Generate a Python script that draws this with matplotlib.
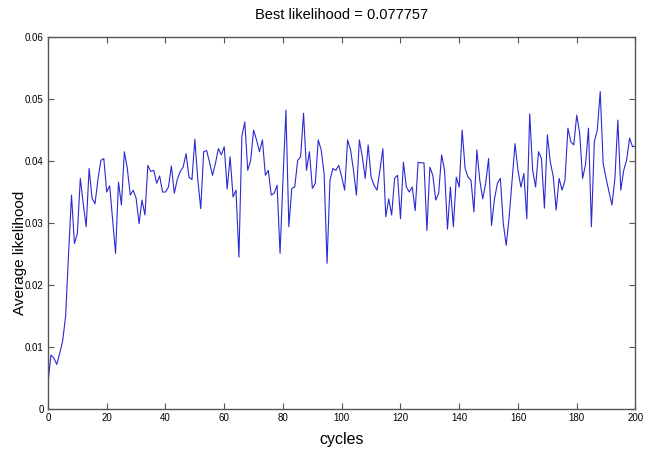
import numpy as np
import matplotlib
matplotlib.use("Agg")
import matplotlib.pyplot as plt

# Values, one per cycle (0..200)
likelihood = [
    0.0042, 0.0087, 0.0082, 0.0072, 0.0090, 0.0110, 0.0150, 0.0250, 0.0345, 0.0267,
    0.0283, 0.0372, 0.0331, 0.0294, 0.0388, 0.0340, 0.0331, 0.0370, 0.0401, 0.0404,
    0.0350, 0.0360, 0.0305, 0.0251, 0.0366, 0.0329, 0.0415, 0.0388, 0.0345, 0.0353,
    0.0340, 0.0299, 0.0337, 0.0313, 0.0393, 0.0383, 0.0385, 0.0364, 0.0376, 0.0350,
    0.0350, 0.0358, 0.0392, 0.0348, 0.0370, 0.0383, 0.0390, 0.0412, 0.0374, 0.0370,
    0.0435, 0.0370, 0.0323, 0.0415, 0.0417, 0.0398, 0.0377, 0.0396, 0.0420, 0.0410,
    0.0423, 0.0355, 0.0407, 0.0342, 0.0353, 0.0245, 0.0440, 0.0463, 0.0385, 0.0401,
    0.0450, 0.0434, 0.0415, 0.0434, 0.0377, 0.0385, 0.0345, 0.0348, 0.0361, 0.0251,
    0.0370, 0.0482, 0.0294, 0.0356, 0.0358, 0.0401, 0.0407, 0.0477, 0.0385, 0.0415,
    0.0356, 0.0364, 0.0434, 0.0418, 0.0380, 0.0235, 0.0369, 0.0388, 0.0385, 0.0393,
    0.0374, 0.0353, 0.0434, 0.0418, 0.0385, 0.0345, 0.0434, 0.0407, 0.0372, 0.0426,
    0.0374, 0.0361, 0.0353, 0.0385, 0.0420, 0.0310, 0.0339, 0.0313, 0.0372, 0.0377,
    0.0307, 0.0398, 0.0358, 0.0350, 0.0358, 0.0320, 0.0398, 0.0397, 0.0397, 0.0288,
    0.0390, 0.0377, 0.0337, 0.0348, 0.0410, 0.0385, 0.0290, 0.0358, 0.0294, 0.0374,
    0.0358, 0.0450, 0.0388, 0.0374, 0.0369, 0.0318, 0.0418, 0.0369, 0.0339, 0.0364,
    0.0404, 0.0296, 0.0339, 0.0364, 0.0372, 0.0299, 0.0264, 0.0310, 0.0369, 0.0428,
    0.0385, 0.0358, 0.0380, 0.0307, 0.0476, 0.0385, 0.0358, 0.0415, 0.0404, 0.0324,
    0.0442, 0.0399, 0.0375, 0.0321, 0.0372, 0.0353, 0.0369, 0.0453, 0.0431, 0.0426,
    0.0474, 0.0445, 0.0372, 0.0394, 0.0453, 0.0294, 0.0431, 0.0450, 0.0512, 0.0396,
    0.0372, 0.0350, 0.0329, 0.0372, 0.0466, 0.0353, 0.0385, 0.0402, 0.0437, 0.0423,
    0.0424,
]
cycles = np.arange(len(likelihood))
x_ticks = [0, 20, 40, 60, 80, 100, 120, 140, 160, 180, 200]
y_ticks = [0, 0.01, 0.02, 0.03, 0.04, 0.05, 0.06]
y_tick_labels = ['0', '0.01', '0.02', '0.03', '0.04', '0.05', '0.06']
best = 0.077757

font = 'Liberation Sans'

fig = plt.figure(figsize=(6.46, 4.57), dpi=100)
ax = fig.add_axes([0.0743, 0.105, 0.9094, 0.814])

ax.plot(cycles, likelihood, color='#2a2ad0', linewidth=0.8)

ax.set_xlim(0, 200)
ax.set_ylim(0, 0.06)
ax.set_xticks(x_ticks)
ax.set_xticklabels([str(t) for t in x_ticks], family=font, fontsize=7)
ax.set_yticks(y_ticks)
ax.set_yticklabels(y_tick_labels, family=font, fontsize=7)
ax.tick_params(direction='in', top=True, right=True, length=4, width=0.8,
               color='#555555', pad=3)
for s in ax.spines.values():
    s.set_color('#555555')
    s.set_linewidth(1.0)

ax.set_title(f'Best likelihood = {best}', family=font, fontsize=10.5, pad=13)
ax.set_xlabel('cycles', family=font, fontsize=11.5, labelpad=6)
ax.set_ylabel('Average likelihood', family=font, fontsize=11, fontweight='medium')
ax.yaxis.set_label_coords(-0.036, 0.42)

fig.savefig('out.png', dpi=100)
